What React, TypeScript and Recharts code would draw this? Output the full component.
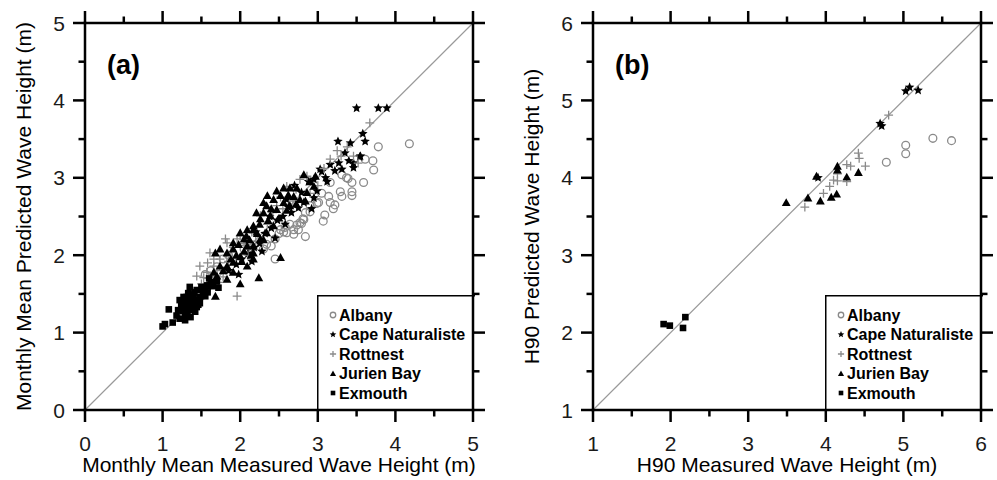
import React from 'react';
import { ScatterChart, Scatter, XAxis, YAxis, ReferenceLine, Legend } from 'recharts';

const FONT = '"Liberation Sans", Arial, Helvetica, sans-serif';
const INK = '#000';
const GRAY = '#8a8a8a';

// ---------- data (measured, predicted) ----------
const seriesNames = ['Albany', 'Cape Naturaliste', 'Rottnest', 'Jurien Bay', 'Exmouth'];
const seriesKinds = ['circle', 'star', 'plus', 'triangle', 'square'];

const ticksA = [0, 0.5, 1, 1.5, 2, 2.5, 3, 3.5, 4, 4.5, 5];
const ticksB = [1, 1.5, 2, 2.5, 3, 3.5, 4, 4.5, 5, 5.5, 6];

const albanyA = [
  [4.18, 3.44], [3.78, 3.40], [3.71, 3.22], [3.72, 3.10], [3.61, 3.24], [3.59, 2.94], [3.44, 2.94],
  [3.44, 2.82], [3.44, 2.77], [3.37, 3.00], [3.31, 3.04], [3.29, 2.82], [3.31, 2.76], [3.16, 2.94],
  [3.14, 2.76], [3.16, 2.68], [3.20, 2.60], [3.05, 2.80], [3.07, 2.44], [3.01, 2.68], [2.84, 2.24],
  [2.82, 2.46], [2.77, 2.42], [2.69, 2.33], [2.64, 2.40], [2.60, 2.29], [2.58, 2.36], [2.52, 2.33],
  [2.45, 2.21], [2.45, 1.95], [2.69, 2.27], [2.75, 2.33], [2.84, 2.55], [2.90, 2.64], [2.34, 2.14],
  [2.30, 2.08], [3.39, 2.99], [3.22, 2.65], [3.09, 2.52], [2.99, 2.67], [2.90, 2.56], [2.73, 2.39],
  [2.79, 2.41], [2.81, 2.47], [2.56, 2.30], [2.40, 2.12], [2.50, 2.28], [1.55, 1.75], [1.62, 1.80],
  [1.70, 1.85], [1.78, 1.95], [1.85, 2.00], [2.05, 2.08], [2.15, 2.10],
];
const capeA = [
  [3.50, 3.90], [3.78, 3.90], [3.89, 3.90], [3.26, 3.47], [3.42, 3.45], [3.61, 3.47], [3.58, 3.57],
  [3.55, 3.28], [3.35, 3.32], [3.27, 3.19], [3.46, 3.19], [3.16, 3.17], [3.03, 3.11], [3.22, 3.09],
  [3.31, 3.11], [3.46, 3.13], [3.54, 3.27], [2.95, 2.98], [2.99, 2.83], [2.95, 2.74], [2.79, 2.81],
  [2.82, 2.68], [2.75, 2.61], [2.60, 2.72], [2.66, 2.55], [2.55, 2.50], [2.48, 2.45], [2.40, 2.35],
  [2.32, 2.28], [2.25, 2.15], [2.18, 2.10], [2.10, 2.02], [2.02, 1.95], [1.95, 1.88], [1.85, 1.80],
  [2.70, 2.90], [2.88, 2.95], [3.10, 3.00], [2.92, 2.60], [2.58, 2.40], [2.45, 2.22], [2.28, 2.05],
  [2.15, 1.92], [1.98, 1.75], [3.40, 3.22], [3.12, 2.95], [3.05, 3.08], [2.62, 2.62], [2.38, 2.50],
  [2.20, 2.30],
];
const rottnestA = [
  [3.67, 3.71], [1.96, 1.47], [1.81, 2.21], [1.57, 1.78], [1.53, 1.71], [1.50, 1.63], [1.66, 1.86],
  [1.74, 1.95], [3.16, 3.24], [3.52, 3.19], [3.46, 3.28], [2.77, 2.98], [2.86, 3.02], [1.96, 2.21],
  [1.91, 2.10], [1.66, 1.95], [1.48, 1.86], [1.44, 1.73], [1.61, 2.03], [1.83, 2.16], [2.00, 2.25],
  [2.26, 2.51], [2.47, 2.64], [2.60, 2.89], [1.48, 1.43], [1.53, 1.52], [1.38, 1.56], [1.70, 1.80],
  [1.78, 1.72], [1.88, 2.05], [2.05, 2.15], [2.15, 2.30], [2.35, 2.40], [2.42, 2.55], [2.55, 2.60],
  [2.68, 2.70], [2.72, 2.85], [2.90, 2.80], [3.00, 2.90], [3.08, 3.12], [3.30, 3.28], [3.38, 3.40],
  [1.62, 1.72], [1.72, 1.65], [1.85, 1.92], [2.10, 2.00], [2.20, 2.18], [1.58, 1.90], [2.52, 2.75],
  [3.25, 3.35],
];
const jurienA = [
  [2.82, 3.04], [2.97, 3.02], [2.47, 2.83], [2.56, 2.87], [2.64, 2.87], [2.73, 2.87], [2.52, 2.77],
  [1.91, 2.08], [1.74, 2.08], [1.68, 2.03], [2.52, 1.97], [2.24, 1.71], [1.68, 1.47], [1.50, 1.56],
  [2.00, 1.63], [2.09, 2.33], [2.17, 2.33], [2.05, 2.21], [1.91, 1.91], [1.83, 1.86], [1.91, 1.78],
  [1.83, 1.69], [1.70, 1.73], [1.61, 1.65], [2.30, 2.55], [2.34, 2.64], [2.43, 2.72], [2.30, 2.68],
  [2.21, 2.55], [2.26, 2.47], [2.17, 2.38], [2.39, 2.51], [2.47, 2.59], [2.56, 2.68], [2.64, 2.64],
  [2.69, 2.76], [2.77, 2.72], [2.86, 2.81], [2.95, 2.89], [1.91, 2.16], [1.83, 2.03], [2.00, 1.98],
  [2.09, 1.86], [2.17, 1.95], [1.74, 1.86], [1.66, 1.78], [1.57, 1.60], [2.09, 2.12], [2.17, 2.12],
  [2.26, 2.21], [2.34, 2.29], [2.43, 2.38], [2.17, 2.03], [2.00, 2.29], [1.95, 2.00], [2.05, 2.05],
  [2.12, 2.20], [2.22, 2.28], [2.36, 2.45], [2.60, 2.58], [2.72, 2.66], [2.84, 2.70], [2.30, 2.20],
  [1.88, 1.95], [2.02, 1.92], [2.14, 2.00], [1.78, 1.80], [2.40, 2.60], [2.50, 2.48], [2.62, 2.78],
  [2.35, 2.77], [1.98, 2.14], [2.08, 2.25], [2.25, 2.40], [2.90, 2.95],
];
const exmouthA = [
  [1.00, 1.08], [1.03, 1.11], [1.13, 1.13], [1.08, 1.30], [1.20, 1.29], [1.22, 1.42], [1.26, 1.38],
  [1.29, 1.23], [1.31, 1.46], [1.35, 1.42], [1.33, 1.36], [1.40, 1.38], [1.37, 1.29], [1.42, 1.27],
  [1.44, 1.33], [1.46, 1.42], [1.48, 1.46], [1.40, 1.49], [1.33, 1.51], [1.27, 1.46], [1.52, 1.51],
  [1.44, 1.55], [1.29, 1.16], [1.50, 1.59], [1.57, 1.61], [1.35, 1.59], [1.30, 1.33], [1.38, 1.45],
  [1.24, 1.35], [1.36, 1.20], [1.32, 1.26], [1.46, 1.36], [1.41, 1.52], [1.54, 1.55], [1.28, 1.40],
  [1.34, 1.48], [1.18, 1.22], [1.62, 1.65], [1.58, 1.52], [1.39, 1.31], [1.26, 1.28], [1.48, 1.38],
  [1.65, 1.60], [1.55, 1.47], [1.22, 1.18], [1.70, 1.66], [1.72, 1.58], [1.60, 1.70],
];

const albanyB = [[4.78, 4.20], [5.03, 4.31], [5.03, 4.42], [5.38, 4.51], [5.62, 4.48]];
const capeB = [[4.70, 4.70], [4.72, 4.67], [5.03, 5.12], [5.08, 5.17], [5.19, 5.13], [3.90, 4.00]];
const rottnestB = [
  [3.73, 3.62], [3.97, 3.80], [4.05, 3.89], [4.10, 3.97], [4.15, 3.96], [4.27, 3.95], [4.27, 4.17],
  [4.32, 4.15], [4.51, 4.15], [4.42, 4.32], [4.43, 4.25], [4.81, 4.81], [4.15, 4.05],
];
const jurienB = [
  [3.49, 3.68], [3.77, 3.74], [3.93, 3.70], [4.07, 3.75], [4.14, 3.79], [3.88, 4.02], [4.15, 4.15],
  [4.15, 4.10], [4.27, 4.01], [4.42, 4.07],
];
const exmouthB = [[1.91, 2.11], [1.99, 2.09], [2.16, 2.06], [2.19, 2.20]];

const toPts = (arr: number[][]) => arr.map(([x, y]) => ({ x, y }));

// ---------- markers ----------
function starPoints(cx: number, cy: number, R: number) {
  const pts: string[] = [];
  for (let i = 0; i < 10; i++) {
    const a = (-90 + i * 36) * Math.PI / 180;
    const r = i % 2 === 0 ? R : R * 0.45;
    pts.push(`${(cx + r * Math.cos(a)).toFixed(2)},${(cy + r * Math.sin(a)).toFixed(2)}`);
  }
  return pts.join(' ');
}

function Marker({ kind, cx, cy, s = 1 }: any) {
  if (cx == null || cy == null || isNaN(cx) || isNaN(cy)) return null;
  switch (kind) {
    case 'circle':
      return <circle cx={cx} cy={cy} r={3.9 * s} fill="none" stroke={GRAY} strokeWidth={1.3} />;
    case 'star':
      return <polygon points={starPoints(cx, cy, 5 * s)} fill={INK} />;
    case 'plus': {
      const h = 4.4 * s;
      return <path d={`M${cx - h},${cy}H${cx + h}M${cx},${cy - h}V${cy + h}`} stroke={GRAY} strokeWidth={1.3} fill="none" />;
    }
    case 'triangle': {
      const h = 4.4 * s;
      return <polygon points={`${cx},${cy - h} ${cx + h},${cy + h * 0.8} ${cx - h},${cy + h * 0.8}`} fill={INK} />;
    }
    default: {
      const h = 3.3 * s;
      return <rect x={cx - h} y={cy - h} width={2 * h} height={2 * h} fill={INK} />;
    }
  }
}

const shapeFor = (kind: string) => (props: any) => <Marker kind={kind} cx={props.cx} cy={props.cy} />;

// ---------- tick labels ----------
const isMajor = (v: number) => Math.abs(v - Math.round(v)) < 1e-6;
const labelTick = (side: string) => (props: any) => {
  const x = Number(props.x);
  const y = Number(props.y);
  const v = Number(props.payload && props.payload.value);
  if (!isMajor(v)) return <g />;
  const tx = { fontFamily: FONT, fontSize: 21, fill: '#1a1a1a', stroke: 'none' };
  if (side === 'bottom') return <text x={x} y={y + 41} textAnchor="middle" {...tx}>{v}</text>;
  return <text x={x - 20} y={y + 7.5} textAnchor="end" {...tx}>{v}</text>;
};

// ---------- legend ----------
function LegendBox() {
  const rows = [20, 39.5, 59, 78.5, 98];
  return (
    <svg width={158} height={118} style={{ display: 'block', overflow: 'visible' }}>
      <rect x={0} y={0} width={158} height={1.5} fill={INK} />
      <rect x={0} y={0} width={1.5} height={118} fill={INK} />
      {seriesNames.map((n, i) => (
        <g key={n}>
          <Marker kind={seriesKinds[i]} cx={16} cy={rows[i]} s={0.7} />
          <text x={22} y={rows[i] + 5.5} fontFamily={FONT} fontSize={16} fontWeight="bold" fill={INK}>{n}</text>
        </g>
      ))}
    </svg>
  );
}

// ---------- panel ----------
function Panel({ width, plotL, plotR, domain, ticks, sets, xTitle, yTitle, tag }: any) {
  const plotT = 23;
  const plotB = 410;
  const H = 480;
  const topH = 12, botH = 60, leftW = 60, rightW = 12;
  const margin = { top: plotT - topH, bottom: H - plotB - botH, left: plotL - leftW, right: width - plotR - rightW };
  const axisLine = { stroke: INK, strokeWidth: 2.5, strokeLinecap: 'square' };
  const common: any = {
    type: 'number', domain, ticks, interval: 0, allowDataOverflow: true,
    tickLine: false, tickSize: 0, tickMargin: 0, axisLine,
  };
  const [d0, d1] = domain;
  const ux = (d1 - d0) / (plotR - plotL); // data units per pixel
  const uy = (d1 - d0) / (plotB - plotT);
  const cxm = (plotL + plotR) / 2;
  const cym = (plotT + plotB) / 2;
  const tickMarks: any[] = [];
  ticks.forEach((t: number) => {
    const len = isMajor(t) ? 12 : 6.5;
    tickMarks.push([{ x: t, y: d0 }, { x: t, y: d0 - len * uy }]);
    tickMarks.push([{ x: t, y: d1 }, { x: t, y: d1 + len * uy }]);
    tickMarks.push([{ x: d0, y: t }, { x: d0 - len * ux, y: t }]);
    tickMarks.push([{ x: d1, y: t }, { x: d1 + len * ux, y: t }]);
  });
  return (
    <ScatterChart width={width} height={H} margin={margin}>
      <XAxis xAxisId="b" dataKey="x" orientation="bottom" height={botH} {...common} tick={labelTick('bottom')}
        label={() => (
          <text x={cxm} y={472} textAnchor="middle" fontFamily={FONT} fontSize={21} fill={INK}>{xTitle}</text>
        )} />
      <XAxis xAxisId="t" orientation="top" height={topH} {...common} tick={false}
        label={() => (
          <text x={plotL + 22} y={74} fontFamily={FONT} fontSize={27} fontWeight="bold" fill={INK}>{tag}</text>
        )} />
      <YAxis yAxisId="l" dataKey="y" orientation="left" width={leftW} {...common} tick={labelTick('left')}
        label={() => (
          <text x={plotL - 54} y={cym} transform={`rotate(-90, ${plotL - 54}, ${cym})`} textAnchor="middle"
            fontFamily={FONT} fontSize={21} fill={INK}>{yTitle}</text>
        )} />
      <YAxis yAxisId="r" orientation="right" width={rightW} {...common} tick={false} />
      {tickMarks.map((seg: any, i: number) => (
        <ReferenceLine key={'tk' + i} xAxisId="b" yAxisId="l" ifOverflow="visible" segment={seg}
          stroke={INK} strokeWidth={2.5} />
      ))}
      <ReferenceLine xAxisId="b" yAxisId="l" segment={[{ x: d0, y: d0 }, { x: d1, y: d1 }]}
        stroke="#9a9a9a" strokeWidth={1.2} />
      {sets.map((d: any, i: number) => (
        <Scatter key={seriesNames[i]} name={seriesNames[i]} data={toPts(d)} xAxisId="b" yAxisId="l"
          shape={shapeFor(seriesKinds[i])} isAnimationActive={false} />
      ))}
      <Legend layout="horizontal" verticalAlign="middle" align="center"
        wrapperStyle={{ position: 'absolute', left: plotR - 156, top: 295, width: 158, height: 118, margin: 0, padding: 0 }}
        content={() => <LegendBox />} />
    </ScatterChart>
  );
}

export default function App() {
  return (
    <div style={{ position: 'absolute', left: 0, top: 0, width: 997, height: 480, background: '#fff', overflow: 'hidden' }}>
      <div style={{ position: 'absolute', left: 0, top: 0 }}>
        <Panel width={500} plotL={85} plotR={473} domain={[0, 5]} ticks={ticksA}
          sets={[albanyA, capeA, rottnestA, jurienA, exmouthA]}
          xTitle="Monthly Mean Measured Wave Height (m)" yTitle="Monthly Mean Predicted Wave Height (m)" tag="(a)" />
      </div>
      <div style={{ position: 'absolute', left: 500, top: 0 }}>
        <Panel width={497} plotL={93} plotR={481} domain={[1, 6]} ticks={ticksB}
          sets={[albanyB, capeB, rottnestB, jurienB, exmouthB]}
          xTitle="H90 Measured Wave Height (m)" yTitle="H90 Predicted Wave Height (m)" tag="(b)" />
      </div>
    </div>
  );
}
